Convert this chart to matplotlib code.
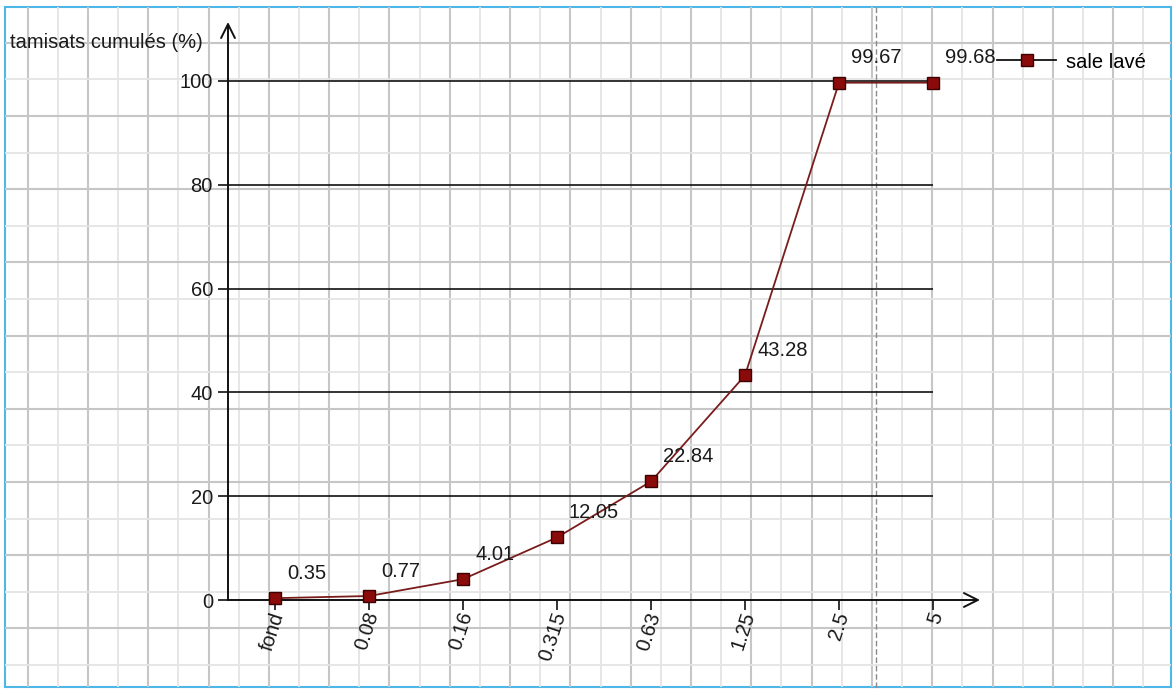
import matplotlib
matplotlib.use('Agg')
import matplotlib.pyplot as plt
import numpy as np
from matplotlib.lines import Line2D
from matplotlib.patches import Rectangle
from matplotlib.transforms import ScaledTranslation

plt.rcParams['font.family'] = ['Liberation Sans', 'DejaVu Sans']

# données
tamis = ['fond', '0.08', '0.16', '0.315', '0.63', '1.25', '2.5', '5']
tamisats = [0.35, 0.77, 4.01, 12.05, 22.84, 43.28, 99.67, 99.68]
graduations_y = [0, 20, 40, 60, 80, 100]
nom_serie = 'sale lavé'
titre_y = 'tamisats cumulés (%)'

FS = 14.5
W, H = 1173, 689
fig = plt.figure(figsize=(W / 100, H / 100), dpi=100)

# fond papier millimétré (coordonnées en pixels)
bg = fig.add_axes([0, 0, 1, 1], zorder=0)
bg.set_xlim(0, W)
bg.set_ylim(H, 0)
bg.axis('off')
x_lines = 27.7 + 30.15 * np.arange(-1, 40)
y_lines = 42.8 + 36.6 * np.arange(-1, 19)
for k, xv in enumerate(x_lines):
    if 5 < xv < 1171:
        dark = (k % 2 == 1)
        bg.vlines(xv, 7, 687, color='#c6c6c6' if dark else '#e4e4e4',
                  lw=1.5 if dark else 1.3)
for k, yv in enumerate(y_lines):
    if 7 < yv < 687:
        dark = (k % 2 == 1)
        bg.hlines(yv, 5, 1171, color='#c6c6c6' if dark else '#e4e4e4',
                  lw=1.5 if dark else 1.3)
bg.add_patch(Rectangle((5, 7), 1166, 680, fill=False, ec='#4db8e8', lw=1.5))
bg.vlines(876, 7, 689, color='#8a8a8a', lw=1, linestyles=(0, (4, 2)))

# graphique
ax = fig.add_axes([228 / W, 1 - 600 / H, (980 - 228) / W, (600 - 22) / H], zorder=2)
ax.patch.set_alpha(0)
ax.set_xlim(-0.5, 7.5)
ax.set_ylim(0, 578 / 5.19)
for s in ax.spines.values():
    s.set_visible(False)

fleche = dict(arrowstyle='->,head_length=1.0,head_width=0.5', color='#111111',
              lw=1.4, shrinkA=0, shrinkB=0)
ax.annotate('', xy=(1, 0), xytext=(0, 0), xycoords='axes fraction', arrowprops=fleche)
ax.annotate('', xy=(0, 1), xytext=(0, 0), xycoords='axes fraction', arrowprops=fleche)

ax.hlines(graduations_y[1:], -0.5, len(tamis) - 1, colors='#111111', lw=1.2, zorder=1)

ax.set_yticks(graduations_y)
ax.tick_params(axis='y', length=7.2, width=1.2, color='#111111', pad=3.6,
               labelsize=FS, labelcolor='#1a1a1a')
x = np.arange(len(tamis))
ax.set_xticks(x)
ax.set_xticklabels(tamis, rotation=72, ha='right', va='center',
                   rotation_mode='anchor', fontsize=FS, color='#1a1a1a')
ax.tick_params(axis='x', length=7, width=1.2, color='#111111', pad=2)
for lbl in ax.get_xticklabels():
    lbl.set_transform(lbl.get_transform() + ScaledTranslation(0.04, 0, fig.dpi_scale_trans))

ax.plot(x, tamisats, color='#7a1c1c', lw=1.3, marker='s', ms=9,
        mfc='#8b0a0a', mec='#3d0000', mew=1, clip_on=False, zorder=4)
for i, v in enumerate(tamisats):
    ax.annotate(f'{v:g}', (i, v), xytext=(12, 25), textcoords='offset pixels',
                ha='left', va='center', fontsize=FS, color='#1a1a1a', zorder=5)

fig.text(10 / W, 1 - 42 / H, titre_y, ha='left', va='center', fontsize=FS, color='#1a1a1a')

poignee = Line2D([], [], color='#111111', lw=1.3, marker='s', ms=9,
                 mfc='#8b0a0a', mec='#3d0000', mew=1)
ax.legend([poignee], [nom_serie], loc='center left',
          bbox_to_anchor=(997 / W, 1 - 62 / H), bbox_transform=fig.transFigure,
          frameon=False, borderpad=0, borderaxespad=0, handlelength=2.95,
          handletextpad=0.5, fontsize=FS)

fig.savefig('out.png', dpi=100)
